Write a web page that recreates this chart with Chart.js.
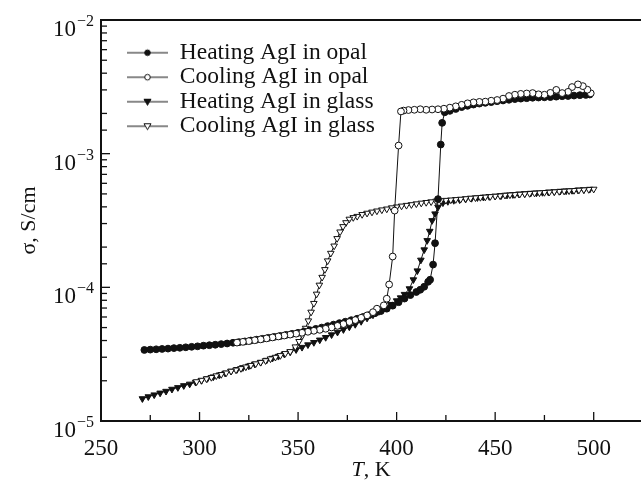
<!DOCTYPE html>
<html>
<head>
<meta charset="utf-8">
<script src="https://cdn.jsdelivr.net/npm/chart.js@4.4.0/dist/chart.umd.min.js"></script>
<style>
  html, body { margin: 0; padding: 0; background: #fff; }
  canvas { display: block; }
</style>
</head>
<body>
<canvas id="chart" width="641" height="485"></canvas>
<script>
// temperatures (K) and conductivities (S/cm)
const heatingOpalT = [272, 275, 278, 281, 284, 287, 290, 293, 296, 299, 302, 305, 308, 311, 314, 317, 320, 323, 326, 329, 332, 335, 338, 341, 344, 347, 350, 353, 356, 359, 362, 365, 368, 371, 374, 377, 380, 383, 386, 389, 392, 395, 398, 401, 404, 407, 410, 412, 414, 416, 417, 418.5, 419.5, 421, 422.4, 423.1, 424.4, 427, 430, 433, 436, 439, 442, 445, 448, 451, 454, 457, 460, 463, 466, 469, 472, 475, 478, 481, 484, 487, 490, 493, 496, 498];
const heatingOpalSigma = [3.40e-5, 3.42e-5, 3.44e-5, 3.46e-5, 3.48e-5, 3.51e-5, 3.53e-5, 3.56e-5, 3.59e-5, 3.62e-5, 3.66e-5, 3.69e-5, 3.72e-5, 3.76e-5, 3.80e-5, 3.85e-5, 3.89e-5, 3.94e-5, 4.00e-5, 4.06e-5, 4.12e-5, 4.19e-5, 4.26e-5, 4.33e-5, 4.41e-5, 4.49e-5, 4.57e-5, 4.67e-5, 4.78e-5, 4.89e-5, 5.00e-5, 5.13e-5, 5.26e-5, 5.40e-5, 5.53e-5, 5.68e-5, 5.82e-5, 6.00e-5, 6.19e-5, 6.40e-5, 6.64e-5, 6.92e-5, 7.29e-5, 7.74e-5, 8.24e-5, 8.75e-5, 9.23e-5, 9.59e-5, 1.01e-4, 1.10e-4, 1.14e-4, 1.48e-4, 2.14e-4, 4.57e-4, 1.17e-3, 1.70e-3, 2.04e-3, 2.09e-3, 2.16e-3, 2.23e-3, 2.28e-3, 2.33e-3, 2.37e-3, 2.40e-3, 2.43e-3, 2.47e-3, 2.50e-3, 2.53e-3, 2.56e-3, 2.58e-3, 2.60e-3, 2.62e-3, 2.63e-3, 2.64e-3, 2.65e-3, 2.67e-3, 2.69e-3, 2.70e-3, 2.72e-3, 2.74e-3, 2.75e-3, 2.77e-3];

const coolingOpalT = [498.5, 496.8, 494.5, 492, 489, 487, 484, 481, 478, 475, 472, 469, 466, 463, 460, 457, 454, 451, 448, 445, 442, 439, 436, 433, 430, 427, 424, 421, 418, 415, 412, 409, 406, 403.5, 402.2, 401, 399, 398, 396.2, 395, 393.5, 390, 388, 385, 382, 379, 376, 373, 370, 367, 364, 361, 358, 355, 352, 349, 346, 343, 340, 337, 334, 331, 328, 325, 322, 319];
const coolingOpalSigma = [2.83e-3, 3.01e-3, 3.20e-3, 3.30e-3, 3.15e-3, 2.90e-3, 2.84e-3, 3.00e-3, 2.85e-3, 2.76e-3, 2.78e-3, 2.84e-3, 2.82e-3, 2.80e-3, 2.76e-3, 2.70e-3, 2.58e-3, 2.52e-3, 2.49e-3, 2.45e-3, 2.44e-3, 2.42e-3, 2.38e-3, 2.32e-3, 2.26e-3, 2.21e-3, 2.17e-3, 2.15e-3, 2.14e-3, 2.13e-3, 2.15e-3, 2.13e-3, 2.12e-3, 2.10e-3, 2.07e-3, 1.15e-3, 3.75e-4, 1.70e-4, 1.05e-4, 8.22e-5, 7.33e-5, 6.92e-5, 6.52e-5, 6.17e-5, 5.92e-5, 5.69e-5, 5.50e-5, 5.31e-5, 5.15e-5, 5.01e-5, 4.90e-5, 4.81e-5, 4.73e-5, 4.65e-5, 4.57e-5, 4.50e-5, 4.43e-5, 4.36e-5, 4.29e-5, 4.22e-5, 4.15e-5, 4.08e-5, 4.02e-5, 3.96e-5, 3.91e-5, 3.86e-5];

const heatingGlassT = [271, 274, 277, 280, 283, 286, 289, 292, 295, 298, 301, 304, 307, 310, 313, 316, 319, 322, 325, 328, 331, 334, 337, 340, 343, 346, 349, 352, 355, 358, 361, 364, 367, 370, 373, 376, 379, 382, 385, 388, 391, 394, 397, 400, 402, 404, 406.5, 408.5, 410.5, 412.3, 414, 415.5, 416.8, 418, 419.5, 421, 423.5, 426, 429, 432, 435, 438, 441, 444, 447, 450, 453, 456, 459, 462, 465, 468, 471, 474, 477, 480, 483, 486, 489, 492, 495, 498];
const heatingGlassSigma = [1.47e-5, 1.52e-5, 1.57e-5, 1.62e-5, 1.67e-5, 1.73e-5, 1.78e-5, 1.84e-5, 1.89e-5, 1.95e-5, 2.01e-5, 2.08e-5, 2.14e-5, 2.21e-5, 2.28e-5, 2.36e-5, 2.43e-5, 2.51e-5, 2.58e-5, 2.67e-5, 2.75e-5, 2.85e-5, 2.95e-5, 3.05e-5, 3.17e-5, 3.29e-5, 3.42e-5, 3.56e-5, 3.72e-5, 3.87e-5, 4.04e-5, 4.22e-5, 4.42e-5, 4.62e-5, 4.83e-5, 5.06e-5, 5.28e-5, 5.56e-5, 5.89e-5, 6.22e-5, 6.59e-5, 7.01e-5, 7.46e-5, 7.94e-5, 8.36e-5, 8.87e-5, 9.77e-5, 1.14e-4, 1.33e-4, 1.60e-4, 1.91e-4, 2.24e-4, 2.63e-4, 3.16e-4, 3.55e-4, 3.98e-4, 4.29e-4, 4.39e-4, 4.47e-4, 4.52e-4, 4.57e-4, 4.63e-4, 4.69e-4, 4.73e-4, 4.78e-4, 4.81e-4, 4.85e-4, 4.90e-4, 4.94e-4, 4.99e-4, 5.02e-4, 5.06e-4, 5.09e-4, 5.13e-4, 5.16e-4, 5.20e-4, 5.24e-4, 5.27e-4, 5.31e-4, 5.35e-4, 5.38e-4, 5.42e-4];

const coolingGlassT = [500, 497.5, 495, 492.5, 490, 487.5, 485, 482.5, 480, 477.5, 475, 472.5, 470, 467.5, 465, 462.5, 460, 457.5, 455, 452.5, 450, 447.5, 445, 442.5, 440, 437.5, 435, 432.5, 430, 427.5, 425, 422.5, 420, 417.5, 415, 412.5, 410, 407.5, 405, 402.5, 400, 397.5, 395, 392.5, 390, 387.5, 385, 382.5, 380, 378, 376, 374.3, 372.8, 371.3, 369.8, 368.3, 366.6, 365, 363.6, 362.2, 360.8, 359.4, 358, 356.6, 355.2, 353.8, 352.2, 350.5, 348.6, 346, 343.5, 341, 338.5, 336, 333.5, 331, 328.5, 326, 323.5, 321, 318.5, 316, 313.5, 311, 308.5, 306, 303.5, 301, 298.5];
const coolingGlassSigma = [5.43e-4, 5.40e-4, 5.37e-4, 5.34e-4, 5.31e-4, 5.28e-4, 5.25e-4, 5.22e-4, 5.19e-4, 5.16e-4, 5.13e-4, 5.10e-4, 5.07e-4, 5.04e-4, 5.01e-4, 4.98e-4, 4.95e-4, 4.92e-4, 4.89e-4, 4.84e-4, 4.81e-4, 4.78e-4, 4.74e-4, 4.71e-4, 4.68e-4, 4.65e-4, 4.61e-4, 4.57e-4, 4.54e-4, 4.51e-4, 4.48e-4, 4.45e-4, 4.42e-4, 4.37e-4, 4.32e-4, 4.27e-4, 4.22e-4, 4.16e-4, 4.11e-4, 4.06e-4, 4.00e-4, 3.94e-4, 3.86e-4, 3.80e-4, 3.73e-4, 3.66e-4, 3.59e-4, 3.51e-4, 3.40e-4, 3.33e-4, 3.24e-4, 3.05e-4, 2.85e-4, 2.60e-4, 2.32e-4, 2.04e-4, 1.80e-4, 1.58e-4, 1.36e-4, 1.19e-4, 1.04e-4, 8.91e-5, 7.59e-5, 6.53e-5, 5.62e-5, 4.95e-5, 4.37e-5, 3.94e-5, 3.59e-5, 3.31e-5, 3.20e-5, 3.09e-5, 3.00e-5, 2.92e-5, 2.83e-5, 2.75e-5, 2.68e-5, 2.61e-5, 2.54e-5, 2.47e-5, 2.41e-5, 2.36e-5, 2.29e-5, 2.23e-5, 2.18e-5, 2.12e-5, 2.07e-5, 2.02e-5, 1.97e-5];

const seriesLabels = ['Heating AgI in opal', 'Cooling AgI in opal', 'Heating AgI in glass', 'Cooling AgI in glass'];
const xTickLabels = [250, 300, 350, 400, 450, 500];
const yTickValues = [1e-2, 1e-3, 1e-4, 1e-5];
const yTickExponents = ['\u22122', '\u22123', '\u22124', '\u22125'];

const SERIF = '"Liberation Serif", "Times New Roman", serif';
const INK = '#111';

const toPoints = (xs, ys) => xs.map((x, i) => ({ x: x, y: ys[i] }));

// small canvas used as the legend symbol: a line with the marker in the middle
const legendIcon = (shape, filled) => {
    const c = document.createElement('canvas');
    c.width = 66;
    c.height = 14;
    const ctx = c.getContext('2d');
    ctx.strokeStyle = INK;
    ctx.lineWidth = 1;
    ctx.beginPath();
    ctx.moveTo(25, 7);
    ctx.lineTo(66, 7);
    ctx.stroke();
    ctx.beginPath();
    if (shape === 'circle') {
        ctx.arc(45.5, 7, 2.8, 0, Math.PI * 2);
    } else {
        ctx.moveTo(42, 4.5);
        ctx.lineTo(49, 4.5);
        ctx.lineTo(45.5, 10.5);
        ctx.closePath();
    }
    ctx.fillStyle = filled ? INK : '#fff';
    ctx.fill();
    ctx.stroke();
    return c;
};

const makeSet = (label, xs, ys, shape, filled, order) => ({
    label: label,
    data: toPoints(xs, ys),
    borderColor: INK,
    borderWidth: 1,
    tension: 0,
    fill: false,
    pointStyle: shape,
    pointRotation: shape === 'triangle' ? 180 : 0,
    pointRadius: shape === 'triangle' ? 3.8 : 3.4,
    pointBorderWidth: 1,
    pointBorderColor: INK,
    pointBackgroundColor: filled ? INK : '#fff',
    order: order,
    icon: legendIcon(shape, filled)
});

const isDecade = (v) => {
    const e = Math.log10(v);
    return Math.abs(e - Math.round(e)) < 1e-6;
};

const axisDecor = {
    id: 'axisDecor',
    afterDraw(chart) {
        const { ctx, chartArea: { left, right, top, bottom }, scales: { x, y } } = chart;
        ctx.save();
        ctx.strokeStyle = INK;
        ctx.fillStyle = INK;

        // top edge of the frame
        ctx.lineWidth = 2;
        ctx.beginPath();
        ctx.moveTo(left - 1, top);
        ctx.lineTo(right, top);
        ctx.stroke();

        // ticks point into the plot
        ctx.lineWidth = 1.3;
        y.ticks.forEach((t) => {
            const py = y.getPixelForValue(t.value);
            const len = isDecade(t.value) ? 9 : 6;
            ctx.beginPath();
            ctx.moveTo(left, py);
            ctx.lineTo(left + len, py);
            ctx.stroke();
        });
        x.ticks.forEach((t) => {
            if (t.value % 25 !== 0 || t.value <= 250) return;
            const px = x.getPixelForValue(t.value);
            const len = t.value % 50 === 0 ? 9 : 6;
            ctx.beginPath();
            ctx.moveTo(px, bottom);
            ctx.lineTo(px, bottom - len);
            ctx.stroke();
        });

        // y tick labels as 10 with a raised exponent
        ctx.textAlign = 'right';
        ctx.textBaseline = 'alphabetic';
        yTickValues.forEach((v, i) => {
            const py = y.getPixelForValue(v);
            ctx.font = '16px ' + SERIF;
            ctx.fillText(yTickExponents[i], 94, py + 6);
            const wExp = ctx.measureText(yTickExponents[i]).width;
            ctx.font = '23px ' + SERIF;
            ctx.fillText('10', 94 - wExp - 1, py + 16);
        });

        // x axis title with italic T
        ctx.textAlign = 'left';
        ctx.textBaseline = 'middle';
        ctx.font = 'italic 22px ' + SERIF;
        const wT = ctx.measureText('T').width;
        ctx.font = '22px ' + SERIF;
        const wRest = ctx.measureText(', K').width;
        const x0 = (left + right) / 2 - (wT + wRest) / 2;
        ctx.font = 'italic 22px ' + SERIF;
        ctx.fillText('T', x0, 470);
        ctx.font = '22px ' + SERIF;
        ctx.fillText(', K', x0 + wT, 470);
        ctx.restore();
    }
};

new Chart(document.getElementById('chart'), {
    type: 'line',
    data: {
        datasets: [
            makeSet(seriesLabels[0], heatingOpalT, heatingOpalSigma, 'circle', true, 1),
            makeSet(seriesLabels[1], coolingOpalT, coolingOpalSigma, 'circle', false, 0),
            makeSet(seriesLabels[2], heatingGlassT, heatingGlassSigma, 'triangle', true, 3),
            makeSet(seriesLabels[3], coolingGlassT, coolingGlassSigma, 'triangle', false, 2)
        ]
    },
    options: {
        responsive: false,
        animation: false,
        layout: { autoPadding: false, padding: { top: 20, right: 0, left: 0, bottom: 0 } },
        plugins: {
            tooltip: { enabled: false },
            legend: {
                position: 'chartArea',
                align: 'start',
                title: { display: true, text: '.', color: 'rgba(0,0,0,0)', font: { size: 10 }, padding: { top: 28, bottom: 0 } },
                labels: {
                    usePointStyle: true,
                    pointStyleWidth: 66,
                    padding: 1,
                    color: INK,
                    font: { family: SERIF, size: 23.5 },
                    generateLabels: (chart) => chart.data.datasets.map((ds, i) => ({
                        text: ds.label,
                        pointStyle: ds.icon,
                        rotation: 0,
                        datasetIndex: i,
                        hidden: false,
                        lineWidth: 0,
                        fillStyle: INK,
                        strokeStyle: INK,
                        fontColor: INK
                    }))
                }
            }
        },
        scales: {
            x: {
                type: 'linear',
                min: 250,
                max: 524,
                grid: { display: false },
                border: { display: true, width: 2, color: INK },
                ticks: {
                    stepSize: 25,
                    includeBounds: false,
                    autoSkip: false,
                    maxRotation: 0,
                    padding: 6,
                    color: INK,
                    font: { family: SERIF, size: 23 },
                    callback: (v) => xTickLabels.includes(v) ? String(v) : ''
                },
                afterFit: (s) => { s.height = 64; }
            },
            y: {
                type: 'logarithmic',
                min: 1e-5,
                max: 1e-2,
                grid: { display: false },
                border: { display: true, width: 2, color: INK },
                ticks: {
                    autoSkip: false,
                    callback: () => ''
                },
                title: {
                    display: true,
                    text: 'σ, S/cm',
                    color: INK,
                    font: { family: SERIF, size: 22 },
                    padding: { top: 16, bottom: 0 }
                },
                afterFit: (s) => { s.width = 101; }
            }
        }
    },
    plugins: [axisDecor]
});
</script>
</body>
</html>
